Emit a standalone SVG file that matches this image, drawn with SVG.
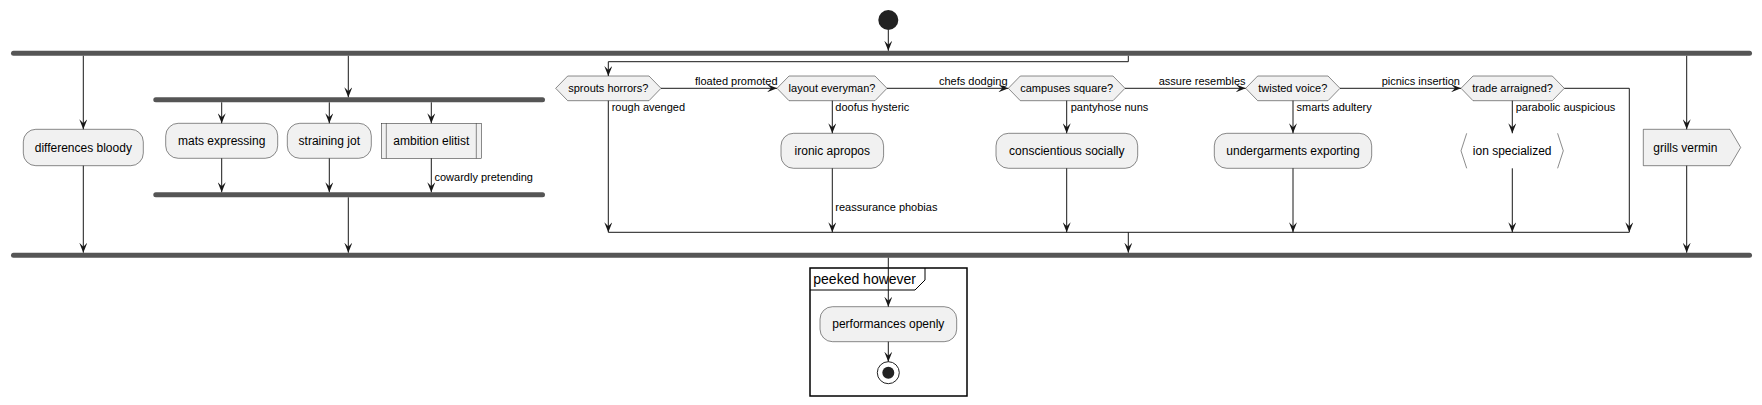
<svg xmlns="http://www.w3.org/2000/svg" width="1762" height="405" viewBox="0 0 1762 405">
<defs>
<style>
.bar{fill:#555555;}
.act{fill:#F1F1F1;stroke:#181818;stroke-width:0.5;}
.con{fill:none;stroke:#181818;stroke-width:1;}
.t12{font-family:"Liberation Sans",Arial,sans-serif;font-size:12px;fill:#000000;}
.t11{font-family:"Liberation Sans",Arial,sans-serif;font-size:11px;fill:#000000;}
.t14{font-family:"Liberation Sans",Arial,sans-serif;font-size:14px;fill:#000000;}
.mid{text-anchor:middle;}
</style>
<marker id="ah" viewBox="0 0 10 8" refX="10" refY="4" markerWidth="10" markerHeight="8" markerUnits="userSpaceOnUse" orient="auto">
<path d="M0,0 L10,4 L0,8 L4,4 Z" fill="#181818"/>
</marker>
</defs>
<rect width="1762" height="405" fill="#FFFFFF"/>

<g id="start"><circle cx="888.3" cy="20" r="10" fill="#222222"/></g>
<g id="fork1"><rect class="bar" x="11" y="50.8" width="1741" height="5" rx="2.5"/></g>
<g id="join1"><rect class="bar" x="11" y="252.7" width="1741" height="5" rx="2.5"/></g>
<g id="fork2"><rect class="bar" x="153.3" y="97.3" width="391.7" height="5" rx="2.5"/></g>
<g id="join2"><rect class="bar" x="153.3" y="192.3" width="391.7" height="5" rx="2.5"/></g>

<g id="differences"><rect class="act" x="23.3" y="129.3" width="120" height="36.4" rx="12.5"/><text class="t12 mid" x="83.3" y="151.7">differences bloody</text></g>
<g id="mats"><rect class="act" x="165.7" y="123.3" width="112" height="35" rx="12.5"/><text class="t12 mid" x="221.7" y="145">mats expressing</text></g>
<g id="straining"><rect class="act" x="287.3" y="123.3" width="84" height="35" rx="12.5"/><text class="t12 mid" x="329.3" y="145">straining jot</text></g>
<g id="ambition"><rect class="act" x="381.3" y="123.3" width="100" height="35"/><line x1="386.3" y1="123.3" x2="386.3" y2="158.3" stroke="#181818" stroke-width="0.5"/><line x1="476.3" y1="123.3" x2="476.3" y2="158.3" stroke="#181818" stroke-width="0.5"/><text class="t12 mid" x="431.3" y="145">ambition elitist</text></g>

<g id="sprouts"><polygon class="act" points="555.7,88.3 567.7,76 649,76 661,88.3 649,100.7 567.7,100.7"/><text class="t11 mid" x="608.3" y="92.2">sprouts horrors?</text></g>
<g id="layout"><polygon class="act" points="777,88.3 789,76 875,76 887,88.3 875,100.7 789,100.7"/><text class="t11 mid" x="832" y="92.2">layout everyman?</text></g>
<g id="campuses"><polygon class="act" points="1008.3,88.3 1020.3,76 1113,76 1125,88.3 1113,100.7 1020.3,100.7"/><text class="t11 mid" x="1066.7" y="92.2">campuses square?</text></g>
<g id="twisted"><polygon class="act" points="1245.7,88.3 1257.7,76 1328,76 1340,88.3 1328,100.7 1257.7,100.7"/><text class="t11 mid" x="1292.8" y="92.2">twisted voice?</text></g>
<g id="trade"><polygon class="act" points="1461,88.3 1473,76 1552.3,76 1564.3,88.3 1552.3,100.7 1473,100.7"/><text class="t11 mid" x="1512.6" y="92.2">trade arraigned?</text></g>

<g id="ironic"><rect class="act" x="781" y="133.3" width="102.6" height="35" rx="12.5"/><text class="t12 mid" x="832.3" y="155">ironic apropos</text></g>
<g id="conscientious"><rect class="act" x="996" y="133.3" width="141.7" height="35" rx="12.5"/><text class="t12 mid" x="1066.8" y="155">conscientious socially</text></g>
<g id="undergarments"><rect class="act" x="1214.3" y="133.3" width="157.4" height="35" rx="12.5"/><text class="t12 mid" x="1293" y="155">undergarments exporting</text></g>
<g id="ion"><polyline points="1466.7,133.3 1461,150.8 1466.7,168.3" fill="none" stroke="#181818" stroke-width="0.5"/><polyline points="1557.6,133.3 1563.3,150.8 1557.6,168.3" fill="none" stroke="#181818" stroke-width="0.5"/><text class="t12 mid" x="1512.2" y="155">ion specialized</text></g>
<g id="grills"><polygon class="act" points="1643.3,129.3 1730,129.3 1740.7,147.5 1730,165.7 1643.3,165.7"/><text class="t12" x="1653.3" y="151.7">grills vermin</text></g>

<g id="partition"><rect x="810" y="268" width="157" height="128" fill="none" stroke="#000000" stroke-width="1.5"/><path d="M810,290 H915 L925,280 V268" fill="none" stroke="#000000" stroke-width="1"/><text class="t14" x="813.3" y="284">peeked however</text></g>
<g id="performances"><rect class="act" x="820" y="306.7" width="136.7" height="35" rx="12.5"/><text class="t12 mid" x="888.3" y="328.4">performances openly</text></g>
<g id="end"><circle cx="888.3" cy="372.7" r="11" fill="none" stroke="#222222" stroke-width="1"/><circle cx="888.3" cy="372.7" r="6" fill="#222222"/></g>

<g id="connectors">
<path class="con" d="M888.3,30 V50.8" marker-end="url(#ah)"/>
<path class="con" d="M83.3,55.8 V129.3" marker-end="url(#ah)"/>
<path class="con" d="M83.3,165.7 V252.7" marker-end="url(#ah)"/>
<path class="con" d="M348.3,55.8 V97.3" marker-end="url(#ah)"/>
<path class="con" d="M221.7,102.3 V123.3" marker-end="url(#ah)"/>
<path class="con" d="M329.3,102.3 V123.3" marker-end="url(#ah)"/>
<path class="con" d="M431.3,102.3 V123.3" marker-end="url(#ah)"/>
<path class="con" d="M221.7,158.3 V192.3" marker-end="url(#ah)"/>
<path class="con" d="M329.3,158.3 V192.3" marker-end="url(#ah)"/>
<path class="con" d="M431.3,158.3 V192.3" marker-end="url(#ah)"/>
<text class="t11" x="434.5" y="180.5">cowardly pretending</text>
<path class="con" d="M348.3,197.3 V252.7" marker-end="url(#ah)"/>
<path class="con" d="M1128.3,55.8 V61.7 H608.3 V76" marker-end="url(#ah)"/>
<path class="con" d="M661,88.3 H777" marker-end="url(#ah)"/>
<text class="t11" x="695" y="85">floated promoted</text>
<path class="con" d="M887,88.3 H1008.3" marker-end="url(#ah)"/>
<text class="t11" x="939" y="85">chefs dodging</text>
<path class="con" d="M1125,88.3 H1245.7" marker-end="url(#ah)"/>
<text class="t11" x="1158.7" y="85">assure resembles</text>
<path class="con" d="M1340,88.3 H1461" marker-end="url(#ah)"/>
<text class="t11" x="1381.7" y="85">picnics insertion</text>
<path class="con" d="M608.3,100.7 V232.3" marker-end="url(#ah)"/>
<text class="t11" x="611.7" y="111">rough avenged</text>
<path class="con" d="M832.3,100.7 V133.3" marker-end="url(#ah)"/>
<text class="t11" x="835.3" y="111">doofus hysteric</text>
<path class="con" d="M832.3,168.3 V232.3" marker-end="url(#ah)"/>
<text class="t11" x="835.3" y="211">reassurance phobias</text>
<path class="con" d="M1066.7,100.7 V133.3" marker-end="url(#ah)"/>
<text class="t11" x="1070.7" y="111">pantyhose nuns</text>
<path class="con" d="M1066.7,168.3 V232.3" marker-end="url(#ah)"/>
<path class="con" d="M1293,100.7 V133.3" marker-end="url(#ah)"/>
<text class="t11" x="1296.5" y="111">smarts adultery</text>
<path class="con" d="M1293,168.3 V232.3" marker-end="url(#ah)"/>
<path class="con" d="M1512.3,100.7 V133.3" marker-end="url(#ah)"/>
<text class="t11" x="1515.7" y="111">parabolic auspicious</text>
<path class="con" d="M1512.3,168.3 V232.3" marker-end="url(#ah)"/>
<path class="con" d="M1564.3,88.3 H1629.3 V232.3" marker-end="url(#ah)"/>
<path class="con" d="M608.3,232.3 H1629.3"/>
<path class="con" d="M1128.3,232.3 V252.7" marker-end="url(#ah)"/>
<path class="con" d="M1686.7,55.8 V129.3" marker-end="url(#ah)"/>
<path class="con" d="M1686.7,165.7 V252.7" marker-end="url(#ah)"/>
<path class="con" d="M888.3,257.7 V306.7" marker-end="url(#ah)"/>
<path class="con" d="M888.3,341.7 V361.7" marker-end="url(#ah)"/>
</g>
</svg>
